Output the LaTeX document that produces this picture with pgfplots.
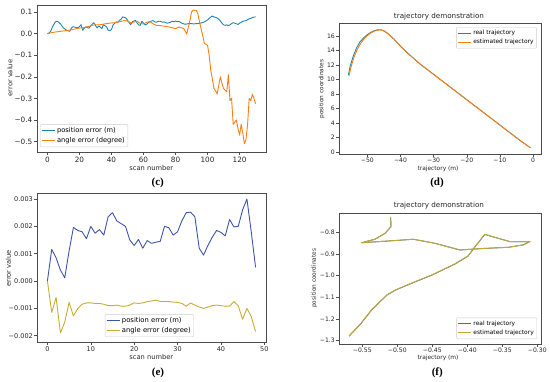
\documentclass[border=0pt]{standalone}
\usepackage{pgfplots}
\pgfplotsset{compat=1.18}
\usepackage{fontspec}
\setmainfont{DejaVu Sans}
\newfontfamily\capfont{Liberation Serif}
\definecolor{cblue}{RGB}{31,134,180}
\definecolor{corange}{RGB}{255,127,14}
\definecolor{eblue}{RGB}{62,84,170}
\definecolor{eyellow}{RGB}{200,174,48}
\definecolor{fblue}{RGB}{70,105,176}
\definecolor{fyellow}{RGB}{196,168,50}
\pgfplotsset{
  mpl/.style={
    scale only axis, anchor=south west,
    axis line style={black!70, line width=0.5pt},
    tick align=outside, tick pos=left,
    major tick length=3pt,
    every tick/.style={black!70, line width=0.5pt},
    tick label style={text=black!85},
    /pgf/number format/assume math mode=true,
    legend cell align=left,
    legend style={draw=black!20, rounded corners=1pt, fill=white, inner sep=1pt, row sep=-1pt},
    legend image code/.code={\draw[##1] (0pt,0pt) -- (13pt,0pt);},
    every axis plot/.append style={line width=0.9pt, line join=round},
  },
  bigc/.style={tick label style={font=\fontsize{7.3}{8}\selectfont, inner sep=1.5pt}, legend style={font=\fontsize{6.7}{8}\selectfont}},
  bige/.style={tick label style={font=\fontsize{6.5}{7.5}\selectfont, inner sep=1pt}, legend style={font=\fontsize{6.8}{8}\selectfont}},
  small/.style={tick label style={font=\fontsize{6.1}{7}\selectfont, inner sep=1pt}, legend style={font=\fontsize{5.9}{7}\selectfont}},
}
\begin{document}
\begin{tikzpicture}
\path[use as bounding box] (0,0) rectangle (550pt,381pt);
% ---------------- (c)
\begin{axis}[mpl, bigc, at={(37pt,229pt)}, width=229pt, height=147pt,
  xmin=-6.5, xmax=136.5, ymin=-0.548, ymax=0.132,
  xtick={0,20,40,60,80,100,120},
  ytick={-0.5,-0.4,-0.3,-0.2,-0.1,0,0.1},
  yticklabels={−0.5,−0.4,−0.3,−0.2,−0.1,0.0,0.1},
  legend style={at={(0.013,0.034)}, anchor=south west}]
\addplot[cblue] coordinates {
(0,0.000)(1,0.002)(2,0.010)(3,0.028)(4,0.042)(5,0.054)(6,0.057)(7,0.053)(8,0.046)(9,0.036)
(10,0.026)(11,0.020)(12,0.015)(13,0.012)(14,0.011)(15,0.026)(16,0.031)(17,0.030)(18,0.028)(19,0.026)
(20,0.032)(21,0.041)(22,0.015)(23,0.025)(24,0.030)(25,0.027)(26,0.025)(27,0.035)(28,0.043)(29,0.050)
(30,0.038)(31,0.026)(32,0.035)(33,0.030)(34,0.023)(35,0.041)(36,0.036)(37,0.030)(38,0.015)(39,0.014)
(40,0.018)(41,0.040)(42,0.047)(43,0.054)(44,0.052)(45,0.061)(46,0.066)(47,0.077)(48,0.075)(49,0.072)
(50,0.062)(51,0.050)(52,0.041)(53,0.054)(54,0.058)(55,0.061)(56,0.049)(57,0.040)(58,0.038)(59,0.057)
(60,0.048)(61,0.040)(62,0.043)(63,0.050)(64,0.055)(65,0.058)(66,0.060)(67,0.054)(68,0.052)(69,0.056)
(70,0.057)(71,0.055)(72,0.052)(73,0.054)(74,0.050)(75,0.048)(76,0.050)(77,0.053)(78,0.057)(79,0.054)
(80,0.058)(81,0.055)(82,0.057)(83,0.052)(84,0.048)(85,0.045)(86,0.043)(87,0.044)(88,0.046)(89,0.046)
(90,0.046)(91,0.045)(92,0.045)(93,0.046)(94,0.046)(95,0.047)(96,0.049)(97,0.051)(98,0.054)(99,0.058)
(100,0.063)(101,0.070)(102,0.076)(103,0.081)(104,0.077)(105,0.075)(106,0.072)(107,0.066)(108,0.058)(109,0.048)
(110,0.040)(111,0.038)(112,0.040)(113,0.037)(114,0.040)(115,0.046)(116,0.050)(117,0.048)(118,0.045)(119,0.042)
(120,0.048)(121,0.052)(122,0.057)(123,0.058)(124,0.060)(125,0.064)(126,0.068)(127,0.070)(128,0.074)(129,0.076)(130,0.077)};
\addlegendentry{position error (m)}
\addplot[corange] coordinates {
(0,0.000)(2,0.003)(4,0.006)(6,0.008)(8,0.010)(10,0.012)(12,0.014)(14,0.016)(16,0.019)(18,0.022)
(20,0.025)(22,0.027)(24,0.030)(26,0.033)(28,0.038)(30,0.041)(32,0.040)(34,0.042)(36,0.045)(38,0.047)
(40,0.049)(42,0.050)(44,0.053)(46,0.056)(48,0.060)(50,0.058)(52,0.050)(54,0.053)(56,0.057)(58,0.047)
(60,0.044)(62,0.052)(64,0.055)(66,0.045)(68,0.038)(70,0.037)(72,0.035)(74,0.033)(76,0.030)(78,0.027)
(80,0.022)(82,0.030)(84,0.026)(85,0.024)(86,0.012)(87,-0.003)(88,0.030)(89,0.060)(90,0.100)(91,0.108)
(92,0.108)(93,0.107)(94,0.090)(95,0.054)(96,0.020)(97,-0.010)(98,-0.045)(99,-0.050)(100,-0.054)(101,-0.100)
(102,-0.170)(103,-0.210)(104,-0.255)(105,-0.265)(106,-0.280)(107,-0.240)(108,-0.200)(109,-0.230)(110,-0.255)(111,-0.262)
(112,-0.270)(113,-0.190)(114,-0.310)(115,-0.300)(116,-0.420)(117,-0.410)(118,-0.400)(119,-0.440)(120,-0.470)(121,-0.420)
(122,-0.460)(123,-0.510)(124,-0.490)(125,-0.420)(126,-0.300)(127,-0.310)(128,-0.280)(129,-0.300)(130,-0.325)};
\addlegendentry{angle error (degree)}
\end{axis}
% ---------------- (d)
\begin{axis}[mpl, small, at={(339pt,227pt)}, width=202pt, height=131pt,
  xmin=-58.55, xmax=2.4, ymin=-0.3, ymax=17.8,
  xtick={-50,-40,-30,-20,-10,0}, xticklabels={−50,−40,−30,−20,−10,0},
  ytick={0,2,4,6,8,10,12,14,16},
  legend style={at={(0.979,0.969)}, anchor=north east}]
\addplot[cblue] coordinates {
(-55.7,10.6)(-55.2,11.8)(-54.2,13.3)(-53.2,14.4)(-52.2,15.2)(-51.1,15.75)(-50,16.2)(-49,16.5)(-48,16.72)(-47,16.85)
(-46,16.87)(-45,16.72)(-44,16.4)(-43,16.0)(-42,15.6)(-41,15.1)(-40,14.6)(-38,13.7)(-36,12.9)(-34,12.1)(-32,11.4)
(-30,10.7)(-28,10.0)(-26,9.3)(-24,8.6)(-22,7.9)(-20,7.2)(-18,6.5)(-16,5.8)(-14,5.1)(-12,4.4)(-10,3.7)(-8,3.0)
(-6,2.3)(-4,1.6)(-2,0.95)(-0.8,0.55)};
\addlegendentry{real trajectory}
\addplot[corange] coordinates {
(-55.5,10.5)(-55,11.6)(-54,13.1)(-53,14.2)(-52,15.0)(-51,15.6)(-50,16.05)(-49,16.4)(-48,16.65)(-47,16.8)
(-46,16.85)(-45,16.7)(-44,16.4)(-43,16.0)(-42,15.6)(-41,15.1)(-40,14.6)(-38,13.7)(-36,12.9)(-34,12.1)(-32,11.4)
(-30,10.7)(-28,10.0)(-26,9.3)(-24,8.6)(-22,7.9)(-20,7.2)(-18,6.5)(-16,5.8)(-14,5.1)(-12,4.4)(-10,3.7)(-8,3.0)
(-6,2.3)(-4,1.6)(-2,0.95)(-0.8,0.55)};
\addlegendentry{estimated trajectory}
\end{axis}
% ---------------- (e)
\begin{axis}[mpl, bige, at={(37pt,39pt)}, width=229pt, height=149pt,
  xmin=-2.4, xmax=50.4, ymin=-0.00223, ymax=0.00322,
  xtick={0,10,20,30,40,50},
  ytick={-0.002,-0.001,0,0.001,0.002,0.003},
  yticklabels={−0.002,−0.001,0.000,0.001,0.002,0.003},
  scaled y ticks=false,
  legend style={at={(0.491,0.034)}, anchor=south}]
\addplot[eblue] coordinates {
(0,0)(1,0.00116)(2,0.00085)(3,0.0004)(4,0.00012)(5,0.0011)(6,0.00196)(7,0.00185)(8,0.0018)(9,0.00155)
(10,0.002)(11,0.00175)(12,0.00188)(13,0.00168)(14,0.00235)(15,0.0025)(16,0.0022)(17,0.0021)(18,0.002)(19,0.0015)
(20,0.0013)(21,0.00152)(22,0.0012)(23,0.00148)(24,0.00138)(25,0.00142)(26,0.00145)(27,0.002)(28,0.00195)(29,0.00168)
(30,0.0018)(31,0.0022)(32,0.0025)(33,0.00252)(34,0.00235)(35,0.0012)(36,0.00095)(37,0.0013)(38,0.0016)(39,0.00185)
(40,0.00178)(41,0.00165)(42,0.00225)(43,0.00198)(44,0.002)(45,0.0026)(46,0.003)(47,0.0018)(48,0.0005)};
\addlegendentry{position error (m)}
\addplot[eyellow] coordinates {
(0,0)(1,-0.00115)(2,-0.0006)(3,-0.0019)(4,-0.0015)(5,-0.00078)(6,-0.00128)(7,-0.001)(8,-0.00085)(9,-0.0008)
(10,-0.0008)(11,-0.00082)(12,-0.00082)(13,-0.00085)(14,-0.0009)(15,-0.0009)(16,-0.00088)(17,-0.00092)(18,-0.00092)(19,-0.00088)
(20,-0.0008)(21,-0.00082)(22,-0.0008)(23,-0.00075)(24,-0.00073)(25,-0.0007)(26,-0.00075)(27,-0.00075)(28,-0.00075)(29,-0.00077)
(30,-0.00078)(31,-0.00082)(32,-0.00092)(33,-0.0008)(34,-0.00088)(35,-0.00095)(36,-0.001)(37,-0.00095)(38,-0.0009)(39,-0.00088)
(40,-0.0009)(41,-0.00092)(42,-0.00092)(43,-0.00075)(44,-0.0009)(45,-0.0014)(46,-0.001)(47,-0.0013)(48,-0.00185)};
\addlegendentry{angle error (degree)}
\end{axis}
% ---------------- (f)
\begin{axis}[mpl, small, at={(339pt,37pt)}, width=202pt, height=131pt,
  xmin=-0.5833, xmax=-0.2947, ymin=-1.315, ymax=-0.711,
  xtick={-0.55,-0.5,-0.45,-0.4,-0.35,-0.3},
  xticklabels={−0.55,−0.50,−0.45,−0.40,−0.35,−0.30},
  ytick={-1.3,-1.2,-1.1,-1.0,-0.9,-0.8},
  yticklabels={−1.3,−1.2,−1.1,−1.0,−0.9,−0.8},
  legend style={at={(0.98,0.038)}, anchor=south east}]
\addplot[fblue] coordinates {
(-0.569,-1.279)(-0.552,-1.221)(-0.537,-1.159)(-0.515,-1.090)(-0.503,-1.067)(-0.475,-1.029)(-0.451,-0.998)
(-0.418,-0.947)(-0.399,-0.910)(-0.389,-0.867)(-0.375,-0.810)(-0.351,-0.832)(-0.339,-0.843)(-0.3105,-0.843)
(-0.320,-0.858)(-0.341,-0.869)(-0.3795,-0.875)(-0.4105,-0.8815)(-0.446,-0.851)(-0.477,-0.832)(-0.503,-0.838)
(-0.551,-0.848)(-0.532,-0.832)(-0.5176,-0.805)(-0.509,-0.774)(-0.5095,-0.731)};
\addlegendentry{real trajectory}
\addplot[fyellow] coordinates {
(-0.569,-1.278)(-0.552,-1.220)(-0.537,-1.158)(-0.515,-1.089)(-0.503,-1.066)(-0.475,-1.028)(-0.451,-0.997)
(-0.418,-0.946)(-0.399,-0.909)(-0.389,-0.866)(-0.375,-0.809)(-0.351,-0.832)(-0.339,-0.843)(-0.3105,-0.843)
(-0.320,-0.858)(-0.341,-0.869)(-0.3795,-0.875)(-0.4105,-0.8815)(-0.446,-0.851)(-0.477,-0.832)(-0.503,-0.838)
(-0.551,-0.848)(-0.532,-0.832)(-0.5176,-0.805)(-0.509,-0.774)(-0.5095,-0.731)};
\addlegendentry{estimated trajectory}
\end{axis}
% ---------------- labels
\begin{scope}[every node/.style={text=black!85, inner sep=0pt}]
\node[rotate=90, font=\fontsize{6.7}{8}\selectfont] at (10pt,303pt) {error value};
\node[font=\fontsize{6.7}{8}\selectfont] at (151.3pt,213pt) {scan number};
\node[font=\capfont\bfseries\fontsize{11}{12}\selectfont, text=black] at (157.7pt,198pt) {(c)};
\node[font=\fontsize{7.2}{8}\selectfont] at (439pt,364pt) {trajectory demonstration};
\node[rotate=90, font=\fontsize{5.8}{7}\selectfont] at (321.7pt,292pt) {position coordinates};
\node[font=\fontsize{5.9}{7}\selectfont] at (438pt,212.5pt) {trajectory (m)};
\node[font=\capfont\bfseries\fontsize{11}{12}\selectfont, text=black] at (437pt,198pt) {(d)};
\node[rotate=90, font=\fontsize{6.7}{8}\selectfont] at (8.3pt,112.7pt) {error value};
\node[font=\fontsize{6.7}{8}\selectfont] at (151.3pt,24.3pt) {scan number};
\node[font=\capfont\bfseries\fontsize{11}{12}\selectfont, text=black] at (158pt,8.3pt) {(e)};
\node[font=\fontsize{7.2}{8}\selectfont] at (439pt,175pt) {trajectory demonstration};
\node[rotate=90, font=\fontsize{5.8}{7}\selectfont] at (314.3pt,102.7pt) {position coordinates};
\node[font=\fontsize{5.9}{7}\selectfont] at (438pt,23.4pt) {trajectory (m)};
\node[font=\capfont\bfseries\fontsize{11}{12}\selectfont, text=black] at (437.3pt,8.3pt) {(f)};
\end{scope}
\end{tikzpicture}
\end{document}
